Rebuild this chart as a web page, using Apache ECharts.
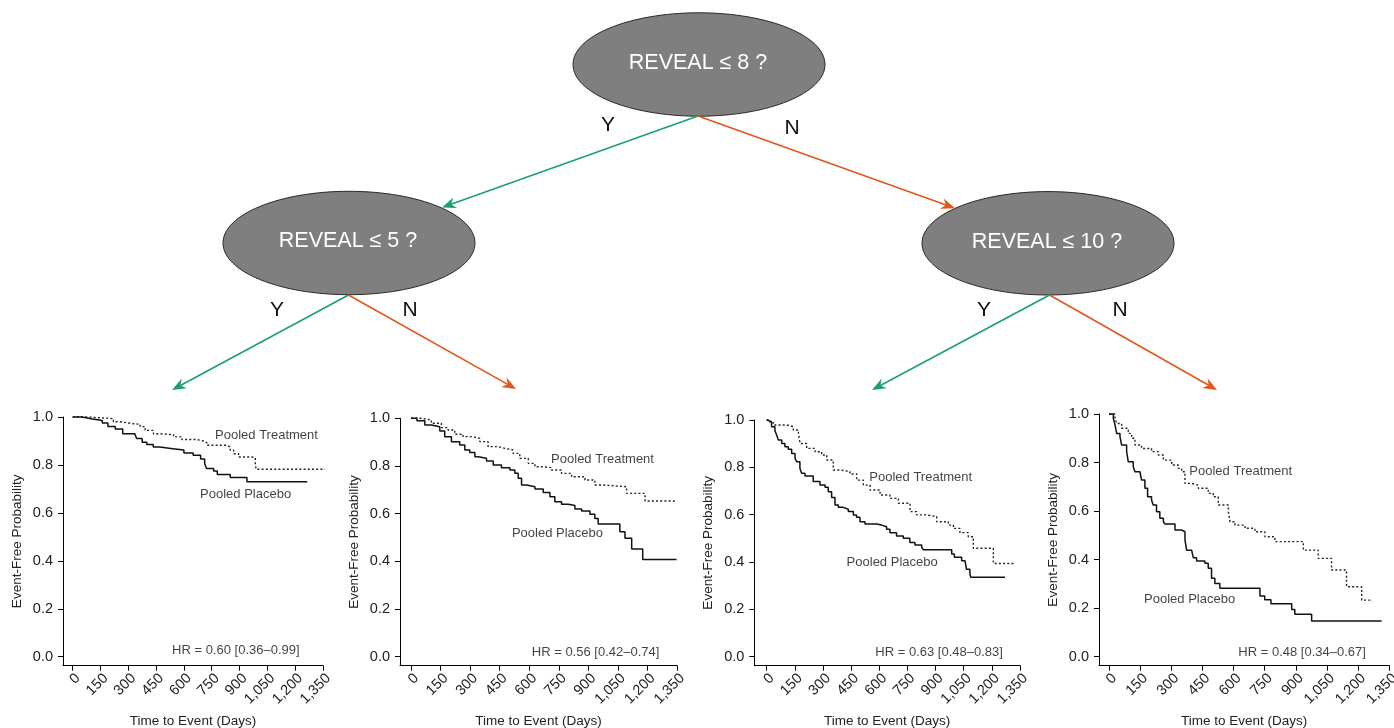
<!DOCTYPE html>
<html>
<head>
<meta charset="utf-8">
<script src="https://cdn.jsdelivr.net/npm/echarts@6/dist/echarts.min.js"></script>
<style>
html,body{margin:0;padding:0;background:#fff;}
#chart{width:1394px;height:728px;}
</style>
</head>
<body>
<div id="chart"></div>
<script>
// ---------- DATA (Kaplan-Meier curves: [day, event-free probability]) ----------
const xTicks = [0,150,300,450,600,750,900,1050,1200,1350];
const yTicks = [0,0.2,0.4,0.6,0.8,1.0];

const p1Placebo = [[0,1],[50,0.993],[100,0.985],[160,0.975],[190,0.96],[230,0.95],[270,0.93],[335,0.925],[345,0.91],[375,0.895],[400,0.885],[435,0.875],[470,0.868],[540,0.862],[600,0.85],[650,0.84],[690,0.825],[712,0.805],[722,0.785],[760,0.775],[780,0.76],[850,0.748],[940,0.73],[1265,0.73]];
const p1Treatment = [[0,1],[76,0.997],[148,0.993],[220,0.98],[256,0.972],[328,0.97],[364,0.96],[391,0.944],[436,0.93],[472,0.926],[544,0.917],[589,0.906],[670,0.9],[706,0.892],[724,0.882],[832,0.875],[850,0.861],[868,0.847],[895,0.833],[967,0.83],[985,0.8],[990,0.782],[1370,0.782]];

const p2Placebo = [[0,1],[30,0.99],[70,0.972],[103,0.965],[146,0.947],[171,0.923],[205,0.902],[247,0.888],[273,0.867],[298,0.857],[324,0.839],[341,0.832],[383,0.821],[417,0.804],[459,0.793],[502,0.783],[527,0.769],[544,0.748],[561,0.72],[586,0.713],[629,0.703],[671,0.689],[705,0.671],[730,0.65],[764,0.639],[798,0.634],[832,0.62],[866,0.611],[908,0.597],[933,0.58],[950,0.557],[1060,0.524],[1086,0.497],[1120,0.452],[1176,0.408],[1348,0.408]];
const p2Treatment = [[0,1],[53,0.993],[103,0.979],[154,0.961],[188,0.951],[222,0.933],[264,0.923],[307,0.916],[349,0.902],[391,0.881],[442,0.874],[476,0.867],[518,0.853],[552,0.832],[595,0.811],[629,0.797],[662,0.793],[713,0.783],[764,0.769],[815,0.755],[883,0.741],[933,0.72],[976,0.713],[1094,0.685],[1188,0.653],[1340,0.653]];

const p3Placebo = [[0,1],[9,0.993],[26,0.972],[44,0.955],[53,0.937],[62,0.916],[80,0.901],[97,0.887],[115,0.876],[133,0.859],[151,0.838],[160,0.824],[177,0.796],[186,0.775],[204,0.763],[248,0.74],[284,0.725],[311,0.716],[328,0.697],[346,0.673],[364,0.641],[382,0.631],[408,0.623],[435,0.613],[462,0.599],[479,0.589],[497,0.57],[524,0.561],[586,0.556],[613,0.549],[639,0.538],[657,0.524],[692,0.51],[728,0.5],[763,0.482],[790,0.472],[826,0.462],[835,0.452],[986,0.434],[1000,0.42],[1039,0.405],[1057,0.397],[1065,0.369],[1083,0.352],[1087,0.336],[1270,0.336]];
const p3Treatment = [[0,1],[18,0.989],[36,0.979],[107,0.972],[142,0.958],[169,0.944],[178,0.901],[213,0.88],[258,0.866],[293,0.852],[320,0.831],[355,0.789],[391,0.782],[444,0.772],[480,0.746],[515,0.725],[551,0.704],[604,0.683],[657,0.669],[702,0.648],[764,0.613],[799,0.599],[852,0.592],[906,0.57],[968,0.556],[995,0.542],[1030,0.524],[1074,0.507],[1101,0.458],[1208,0.394],[1323,0.394]];

const p4Placebo = [[0,1],[21,0.982],[29,0.955],[37,0.92],[53,0.907],[61,0.872],[85,0.845],[93,0.803],[117,0.783],[125,0.762],[149,0.755],[157,0.728],[173,0.694],[186,0.659],[205,0.646],[213,0.625],[229,0.597],[245,0.57],[262,0.556],[270,0.547],[318,0.522],[350,0.515],[366,0.481],[374,0.439],[398,0.433],[406,0.408],[422,0.394],[462,0.385],[478,0.364],[494,0.323],[510,0.302],[534,0.282],[727,0.25],[750,0.235],[780,0.218],[880,0.195],[895,0.175],[976,0.147],[1313,0.147]];
const p4Treatment = [[0,1],[29,0.982],[37,0.961],[61,0.941],[93,0.92],[109,0.9],[125,0.872],[157,0.858],[205,0.845],[237,0.831],[262,0.81],[302,0.79],[334,0.776],[350,0.762],[366,0.714],[398,0.707],[430,0.694],[478,0.673],[502,0.659],[526,0.625],[575,0.597],[583,0.556],[607,0.542],[655,0.529],[703,0.515],[751,0.494],[799,0.474],[936,0.439],[1008,0.405],[1072,0.357],[1144,0.288],[1217,0.233],[1265,0.229]];

const hrTexts = ['HR = 0.60 [0.36\u20130.99]','HR = 0.56 [0.42\u20130.74]','HR = 0.63 [0.48\u20130.83]','HR = 0.48 [0.34\u20130.67]'];
const treeQuestions = ['REVEAL \u2264 8 ?','REVEAL \u2264 5 ?','REVEAL \u2264 10 ?'];

// ---------- LAYOUT ----------
const FONT = '"Liberation Sans", Arial, Helvetica, sans-serif';
const panels = [
  {left:63,   top:417,   width:260,   height:248.7, xMin:-52, yMin:-0.0375, placebo:p1Placebo, treat:p1Treatment,
   tPos:[768,0.925], pPos:[687,0.675], hPos:[536,0.025]},
  {left:400,  top:418.3, width:277,   height:247.4, xMin:-56, yMin:-0.0378, placebo:p2Placebo, treat:p2Treatment,
   tPos:[711,0.828], pPos:[512,0.515], hPos:[613,0.016]},
  {left:754.3,top:420,   width:265.7, height:245.7, xMin:-66, yMin:-0.038,  placebo:p3Placebo, treat:p3Treatment,
   tPos:[547,0.756], pPos:[426,0.397], hPos:[579,0.017]},
  {left:1099, top:414,   width:290.3, height:251.7, xMin:-48, yMin:-0.037,  placebo:p4Placebo, treat:p4Treatment,
   tPos:[387,0.765], pPos:[169,0.236], hPos:[623,0.016]}
];

const grids=[], xAxes=[], yAxes=[], series=[];
panels.forEach((p,i)=>{
  grids.push({left:p.left, top:p.top, width:p.width, height:p.height, containLabel:false, outerBoundsMode:'none'});
  xAxes.push({
    type:'value', gridIndex:i, min:p.xMin, max:1350,
    axisLine:{show:true, onZero:false, lineStyle:{color:'#000', width:1}},
    axisTick:{show:true, length:5, customValues:xTicks, lineStyle:{color:'#000'}},
    axisLabel:{show:true, customValues:xTicks, rotate:45, margin:5, verticalAlign:'top', fontSize:14.5, color:'#222', fontFamily:FONT,
      formatter:v=>Number(v).toLocaleString('en-US')},
    splitLine:{show:false},
    name:'Time to Event (Days)', nameLocation:'middle', nameGap:49, nameMoveOverlap:false,
    nameTextStyle:{fontSize:13.5, color:'#222', fontFamily:FONT}
  });
  yAxes.push({
    type:'value', gridIndex:i, min:p.yMin, max:1,
    axisLine:{show:true, onZero:false, lineStyle:{color:'#000', width:1}},
    axisTick:{show:true, length:5, customValues:yTicks, lineStyle:{color:'#000'}},
    axisLabel:{show:true, customValues:yTicks, margin:10, fontSize:14.5, color:'#222', fontFamily:FONT,
      formatter:v=>Number(v).toFixed(1)},
    splitLine:{show:false},
    name:'Event-Free Probability', nameLocation:'middle', nameGap:39, nameMoveOverlap:false,
    nameTextStyle:{fontSize:13.5, color:'#222', fontFamily:FONT}
  });
  series.push({
    type:'line', xAxisIndex:i, yAxisIndex:i, step:'end', data:p.treat, symbol:'none', clip:false,
    lineStyle:{color:'#222', width:1.4, type:[2,2.2]}, animation:false, z:3
  });
  series.push({
    type:'line', xAxisIndex:i, yAxisIndex:i, step:'end', data:p.placebo, symbol:'none', clip:false,
    lineStyle:{color:'#111', width:1.5}, animation:false, z:4
  });
  series.push({
    type:'scatter', xAxisIndex:i, yAxisIndex:i, symbolSize:0, animation:false, silent:true,
    data:[
      {value:p.tPos, label:{formatter:'Pooled Treatment'}},
      {value:p.pPos, label:{formatter:'Pooled Placebo'}},
      {value:p.hPos, label:{formatter:hrTexts[i]}}
    ],
    label:{show:true, position:'inside', align:'left', verticalAlign:'middle', fontSize:13, color:'#111', fontFamily:FONT}
  });
});

// ---------- TREE (decision diagram) ----------
const GREEN='#1b9e77', ORANGE='#e2561b';
const treeNodes = [{cx:699,cy:64.5},{cx:349,cy:243},{cx:1048,cy:243.3}];
const treeEdges = [
  {from:[698,116],to:[442,207.5],color:GREEN},{from:[698,116],to:[955,208.3],color:ORANGE},
  {from:[348.5,295],to:[172,390],color:GREEN},{from:[348.5,295],to:[516,389],color:ORANGE},
  {from:[1049.5,295],to:[872,390],color:GREEN},{from:[1049.5,295],to:[1217,390],color:ORANGE}
];
const edgeLabels = [
  {t:'Y',x:608,y:125},{t:'N',x:792,y:128},
  {t:'Y',x:277,y:310},{t:'N',x:410,y:310},
  {t:'Y',x:984,y:310},{t:'N',x:1120,y:310}
];
const graphics=[];
treeNodes.forEach((n,i)=>{
  graphics.push({type:'ellipse', shape:{cx:n.cx, cy:n.cy, rx:126, ry:51.7},
    style:{fill:'#7f7f7f', stroke:'#2a2a2a', lineWidth:1}, z:10});
  graphics.push({type:'text', x:n.cx-1, y:n.cy-1.5, z:11,
    style:{text:treeQuestions[i], fill:'#fff', font:'21.5px '+FONT, textAlign:'center', textVerticalAlign:'middle'}});
});
treeEdges.forEach(e=>{
  const dx=e.to[0]-e.from[0], dy=e.to[1]-e.from[1], L=Math.hypot(dx,dy);
  const ux=dx/L, uy=dy/L, nx=-uy, ny=ux;
  const HL=14, HW=5.5, notch=4.5;
  const T=e.to;
  const back=[T[0]-HL*ux, T[1]-HL*uy];
  const inner=[T[0]-(HL-notch)*ux, T[1]-(HL-notch)*uy];
  graphics.push({type:'line', z:12, shape:{x1:e.from[0],y1:e.from[1],x2:inner[0],y2:inner[1]},
    style:{stroke:e.color, lineWidth:1.6}});
  graphics.push({type:'polygon', z:12, shape:{points:[T,[back[0]+HW*nx, back[1]+HW*ny], inner, [back[0]-HW*nx, back[1]-HW*ny]]},
    style:{fill:e.color}});
});
edgeLabels.forEach(l=>{
  graphics.push({type:'text', x:l.x, y:l.y, z:12,
    style:{text:l.t, fill:'#111', font:'21px '+FONT, textAlign:'center', textVerticalAlign:'middle'}});
});

const chart = echarts.init(document.getElementById('chart'), null, {renderer:'canvas'});
chart.setOption({
  animation:false,
  backgroundColor:'#fff',
  textStyle:{fontFamily:FONT},
  grid:grids, xAxis:xAxes, yAxis:yAxes, series:series,
  graphic:graphics
});
</script>
</body>
</html>
